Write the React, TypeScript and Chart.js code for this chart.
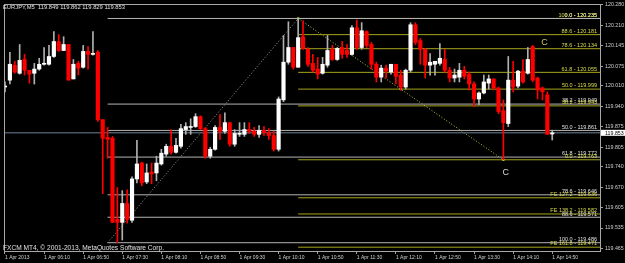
import React, { useEffect, useRef } from 'react';
import { Chart, registerables } from 'chart.js';

Chart.register(...registerables);

const symbolHeader = 'EURJPY,M5  119.849 119.862 119.829 119.853';
const footerText = 'FXCM MT4, \u00A9 2001-2013, MetaQuotes Software Corp.';

const openP = [
  120.006, 120.029, 120.079, 120.052, 120.098, 120.062, 120.052, 120.066, 120.082, 120.082,
  120.108, 120.158, 120.128, 120.148, 120.033, 120.085, 120.072, 120.125, 120.115, 120.122,
  119.897, 119.838, 119.835, 119.564, 119.554, 119.617, 119.561, 119.699, 119.752, 119.689,
  119.722, 119.719, 119.749, 119.782, 119.808, 119.788, 119.808, 119.864, 119.871, 119.874,
  119.907, 119.867, 119.775, 119.798, 119.871, 119.858, 119.887, 119.815, 119.848, 119.848,
  119.864, 119.858, 119.848, 119.861, 119.854, 119.844, 119.798, 119.963, 120.089, 120.138,
  120.072, 120.174, 120.132, 120.085, 120.066, 120.052, 120.079, 120.132, 120.098, 120.138,
  120.128, 120.115, 120.204, 120.138, 120.191, 120.148, 120.082, 120.039, 120.069, 120.056,
  120.082, 120.046, 120.006, 120.062, 120.214, 120.161, 120.132, 120.079, 120.082, 120.085,
  120.098, 120.062, 120.036, 120.039, 120.062, 120.049, 120.016, 119.966, 119.986, 120.019,
  120.033, 120.003, 119.927, 119.884, 120.029, 120.009, 120.059, 120.052, 120.141, 120.036,
  120.003, 119.980, 119.849,
];
const highP = [
  120.023, 120.122, 120.092, 120.148, 120.115, 120.062, 120.085, 120.102, 120.138, 120.145,
  120.191, 120.181, 120.174, 120.148, 120.098, 120.092, 120.145, 120.141, 120.191, 120.128,
  119.897, 119.871, 119.841, 119.670, 119.660, 119.663, 119.706, 119.828, 119.755, 119.749,
  119.752, 119.775, 119.798, 119.815, 119.864, 119.835, 119.881, 119.887, 119.900, 119.917,
  119.910, 119.871, 119.805, 119.877, 119.914, 119.920, 119.887, 119.864, 119.887, 119.887,
  119.887, 119.871, 119.877, 119.874, 119.867, 119.858, 119.973, 120.178, 120.224, 120.138,
  120.235, 120.227, 120.138, 120.115, 120.105, 120.105, 120.178, 120.145, 120.138, 120.158,
  120.148, 120.211, 120.230, 120.221, 120.194, 120.155, 120.089, 120.079, 120.079, 120.082,
  120.082, 120.062, 120.066, 120.221, 120.221, 120.168, 120.135, 120.118, 120.092, 120.151,
  120.132, 120.072, 120.066, 120.085, 120.075, 120.056, 120.023, 119.990, 120.046, 120.046,
  120.033, 120.006, 119.963, 120.108, 120.092, 120.062, 120.098, 120.138, 120.145, 120.039,
  120.006, 119.990, 119.862,
];
const lowP = [
  119.990, 120.016, 120.052, 120.049, 120.046, 120.019, 120.016, 120.062, 120.079, 120.079,
  120.105, 120.125, 120.128, 120.029, 120.033, 120.046, 120.069, 120.066, 120.112, 119.891,
  119.650, 119.768, 119.554, 119.486, 119.495, 119.551, 119.554, 119.686, 119.676, 119.683,
  119.683, 119.693, 119.745, 119.775, 119.782, 119.785, 119.802, 119.848, 119.848, 119.871,
  119.864, 119.768, 119.768, 119.795, 119.831, 119.851, 119.808, 119.808, 119.841, 119.841,
  119.851, 119.841, 119.838, 119.844, 119.831, 119.792, 119.792, 119.957, 120.082, 120.066,
  120.072, 120.132, 120.075, 120.056, 120.033, 120.049, 120.072, 120.095, 120.095, 120.102,
  120.105, 120.112, 120.132, 120.132, 120.138, 120.066, 120.023, 120.023, 120.036, 120.049,
  120.016, 119.996, 119.999, 120.056, 120.148, 120.082, 120.036, 120.046, 120.046, 120.079,
  120.056, 120.023, 120.023, 120.023, 120.033, 119.996, 119.940, 119.947, 119.983, 119.999,
  119.996, 119.917, 119.763, 119.874, 119.990, 120.003, 120.019, 120.049, 120.023, 119.966,
  119.963, 119.848, 119.829,
];
const closeP = [
  120.009, 120.082, 120.056, 120.095, 120.062, 120.049, 120.066, 120.082, 120.085, 120.108,
  120.158, 120.128, 120.148, 120.029, 120.082, 120.069, 120.125, 120.115, 120.118, 119.897,
  119.835, 119.831, 119.554, 119.554, 119.617, 119.564, 119.699, 119.749, 119.686, 119.719,
  119.716, 119.752, 119.785, 119.808, 119.788, 119.811, 119.867, 119.874, 119.874, 119.907,
  119.867, 119.775, 119.798, 119.871, 119.858, 119.887, 119.815, 119.851, 119.851, 119.864,
  119.858, 119.848, 119.861, 119.854, 119.844, 119.798, 119.966, 120.089, 120.138, 120.072,
  120.171, 120.135, 120.082, 120.062, 120.049, 120.082, 120.128, 120.098, 120.135, 120.115,
  120.115, 120.204, 120.138, 120.194, 120.145, 120.082, 120.039, 120.069, 120.059, 120.082,
  120.042, 120.006, 120.062, 120.214, 120.155, 120.132, 120.079, 120.089, 120.092, 120.102,
  120.062, 120.036, 120.046, 120.062, 120.042, 120.016, 119.966, 119.986, 120.023, 120.033,
  120.003, 119.924, 119.887, 120.029, 120.006, 120.059, 120.023, 120.098, 120.029, 119.996,
  119.990, 119.848, 119.853,
];

const xTickIdx = [0, 8, 16, 24, 32, 40, 48, 56, 64, 72, 80, 88, 96, 104, 112];
const xTickLabels = [
  '1 Apr 2013', '1 Apr 06:10', '1 Apr 06:50', '1 Apr 07:30', '1 Apr 08:10',
  '1 Apr 08:50', '1 Apr 09:30', '1 Apr 10:10', '1 Apr 10:50', '1 Apr 11:30',
  '1 Apr 12:10', '1 Apr 12:50', '1 Apr 13:30', '1 Apr 14:10', '1 Apr 14:50',
];
const yTickVals = [
  119.465, 119.535, 119.605, 119.670, 119.740, 119.805, 119.875,
  119.940, 120.010, 120.075, 120.145, 120.210, 120.280,
];

const bidPrice = 119.853;

const yellowFiboPrices = [120.235, 120.181, 120.134, 120.055, 119.999, 119.943, 119.763];
const yellowFiboLabels = [
  '100.0 - 120.235', '88.6 - 120.181', '78.6 - 120.134', '61.8 - 120.055',
  '50.0 - 119.999', '38.2 - 119.943', '0.0 - 119.763',
];
const feFiboPrices = [119.636, 119.582, 119.471];
const feFiboLabels = ['FE 127.2 - 119.636', 'FE 138.2 - 119.582', 'FE 161.8 - 119.471'];
const whiteFiboPrices = [120.235, 119.949, 119.861, 119.772, 119.646, 119.571, 119.486];
const whiteFiboLabels = [
  '0.0 - 120.235', '38.2 - 119.949', '50.0 - 119.861', '61.8 - 119.772',
  '78.6 - 119.646', '88.6 - 119.571', '100.0 - 119.486',
];
const yellowAnchorIdx = 60;
const whiteAnchorIdx = 21;
const yellowTrendIdx = [60, 81, 102];
const yellowTrendPrices = [120.235, 119.999, 119.763];
const whiteTrendIdx = [21, 60];
const whiteTrendPrices = [119.486, 120.235];

const markTexts = ['C', 'C'];
const markIdx = [110.4, 102.5];
const markPrices = [120.155, 119.72];

const FONT = "'Liberation Sans', Arial, sans-serif";
const X_MIN = -0.2036;
const X_MAX = 121.775;
const Y_MIN = 119.4583;
const Y_MAX = 120.2833;

const overlay = {
  id: 'mt4overlay',
  beforeDraw(chart: any) {
    const c = chart.ctx;
    c.save();
    c.fillStyle = '#000000';
    c.fillRect(0, 0, chart.width, chart.height);
    c.restore();
  },
  afterDatasetsDraw(chart: any) {
    const ctx = chart.ctx;
    const ca = chart.chartArea;
    const x = chart.scales.x;
    const y = chart.scales.y;
    ctx.save();
    ctx.strokeStyle = '#a8a8a8';
    ctx.lineWidth = 1;
    ctx.strokeRect(ca.left + 0.5, ca.top + 0.5, ca.right - ca.left, ca.bottom - ca.top);

    ctx.font = `5.5px ${FONT}`;
    ctx.textAlign = 'right';
    ctx.textBaseline = 'bottom';
    const lbl = (t: string, p: number, col: string) => {
      ctx.fillStyle = col;
      ctx.fillText(t, ca.right - 3, y.getPixelForValue(p) - 0.5);
    };
    whiteFiboPrices.forEach((p, k) => lbl(whiteFiboLabels[k], p, '#e0e0e0'));
    yellowFiboPrices.forEach((p, k) => lbl(yellowFiboLabels[k], p, '#dcdc50'));
    feFiboPrices.forEach((p, k) => lbl(feFiboLabels[k], p, '#dcdc50'));

    ctx.textAlign = 'center';
    ctx.textBaseline = 'middle';
    ctx.font = `9px ${FONT}`;
    markTexts.forEach((t, k) => {
      ctx.fillStyle = k === 0 ? '#c8c850' : '#d8d8d8';
      ctx.fillText(t, x.getPixelForValue(markIdx[k]), y.getPixelForValue(markPrices[k]));
    });

    ctx.textAlign = 'left';
    ctx.textBaseline = 'alphabetic';
    ctx.fillStyle = '#e0e0e0';
    ctx.font = `5.8px ${FONT}`;
    ctx.fillText(symbolHeader, 3, 8.5);
    ctx.font = `6.6px ${FONT}`;
    ctx.fillText(footerText, 3, 249.5);
    ctx.restore();
  },
  afterDraw(chart: any) {
    const ctx = chart.ctx;
    const ca = chart.chartArea;
    const y = chart.scales.y;
    const yb = y.getPixelForValue(bidPrice);
    ctx.save();
    ctx.fillStyle = '#ffffff';
    ctx.fillRect(ca.right + 1, yb - 3, 24, 6);
    ctx.fillStyle = '#000000';
    ctx.font = `5.3px ${FONT}`;
    ctx.textAlign = 'left';
    ctx.textBaseline = 'middle';
    ctx.fillText(bidPrice.toFixed(3), ca.right + 5, yb + 0.3);
    ctx.restore();
  },
};

export default function App() {
  const ref = useRef<HTMLCanvasElement>(null);
  useEffect(() => {
    document.body.style.margin = '0';
    document.body.style.background = '#000';
    const canvas = ref.current;
    if (!canvas) return;
    const idx = openP.map((_, i) => i);
    const bull = (i: number) => closeP[i] >= openP[i];
    const hLine = (price: number, from: number, color: string, order = 3) => ({
      type: 'line',
      data: [{ x: from, y: price }, { x: X_MAX, y: price }],
      borderColor: color,
      borderWidth: 1,
      pointRadius: 0,
      order,
    });
    const datasets: any[] = [
      {
        type: 'bar',
        data: idx.map((i) => ({ x: i, y: [openP[i], closeP[i]] })),
        backgroundColor: (c: any) => (bull(c.dataIndex) ? '#ffffff' : '#ff0000'),
        barThickness: 3.5,
        grouped: false,
        minBarLength: 1,
        borderWidth: 0,
        order: 0,
      },
      {
        type: 'bar',
        data: idx.map((i) => ({ x: i, y: [lowP[i], highP[i]] })),
        backgroundColor: (c: any) => (bull(c.dataIndex) ? '#b0b0b0' : '#ff0000'),
        barThickness: 1,
        grouped: false,
        borderWidth: 0,
        order: 1,
      },
      hLine(bidPrice, X_MIN, '#6f8397', 2),
      ...whiteFiboPrices.map((p) => hLine(p, whiteAnchorIdx, '#b4b4b4')),
      ...yellowFiboPrices.map((p) => hLine(p, yellowAnchorIdx, '#a6a61c')),
      ...feFiboPrices.map((p) => hLine(p, yellowAnchorIdx, '#a6a61c')),
      {
        type: 'line',
        data: whiteTrendIdx.map((v, k) => ({ x: v, y: whiteTrendPrices[k] })),
        borderColor: '#a0a0a0',
        borderDash: [1, 2],
        borderWidth: 1,
        pointRadius: 0,
        order: 2,
      },
      {
        type: 'line',
        data: yellowTrendIdx.map((v, k) => ({ x: v, y: yellowTrendPrices[k] })),
        borderColor: '#c8c83c',
        borderDash: [1, 2],
        borderWidth: 1,
        pointRadius: 1.5,
        pointStyle: 'rect',
        pointBackgroundColor: '#e8e840',
        pointBorderWidth: 0,
        order: 2,
      },
    ];
    const chart = new Chart(canvas, {
      type: 'bar',
      data: { datasets },
      options: {
        responsive: false,
        animation: false,
        events: [],
        devicePixelRatio: 1,
        layout: { padding: { left: 1, top: 1, right: 0, bottom: 0 } },
        plugins: { legend: { display: false }, tooltip: { enabled: false } },
        scales: {
          x: {
            type: 'linear',
            min: X_MIN,
            max: X_MAX,
            offset: false,
            position: 'bottom',
            grid: { display: true, drawOnChartArea: false, drawTicks: true, tickLength: 3, tickColor: '#a0a0a0', offset: false },
            border: { display: false },
            ticks: {
              color: '#d0d0d0',
              font: { family: FONT, size: 5 },
              padding: 1,
              align: 'start',
              maxRotation: 0,
              minRotation: 0,
              autoSkip: false,
              callback: (v: any) => {
                const k = xTickIdx.indexOf(Number(v));
                return k >= 0 ? xTickLabels[k] : '';
              },
            },
            afterBuildTicks: (s: any) => {
              s.ticks = xTickIdx.map((v) => ({ value: v }));
            },
            afterFit: (s: any) => {
              s.height = 12;
              s.paddingLeft = 0;
              s.paddingRight = 0;
            },
          },
          y: {
            type: 'linear',
            position: 'right',
            min: Y_MIN,
            max: Y_MAX,
            grid: { display: true, drawOnChartArea: false, drawTicks: true, tickLength: 3, tickColor: '#a0a0a0' },
            border: { display: false },
            ticks: {
              color: '#d0d0d0',
              font: { family: FONT, size: 5.3 },
              padding: 2,
              autoSkip: false,
              callback: (v: any) => Number(v).toFixed(3),
            },
            afterBuildTicks: (s: any) => {
              s.ticks = yTickVals.map((v) => ({ value: v }));
            },
            afterFit: (s: any) => {
              s.width = 25;
              s.paddingTop = 0;
              s.paddingBottom = 0;
            },
          },
        },
      } as any,
      plugins: [overlay],
    } as any);
    return () => chart.destroy();
  }, []);
  return (
    <div style={{ width: 625, height: 263, background: '#000' }}>
      <canvas ref={ref} width={625} height={263} style={{ display: 'block' }} />
    </div>
  );
}
